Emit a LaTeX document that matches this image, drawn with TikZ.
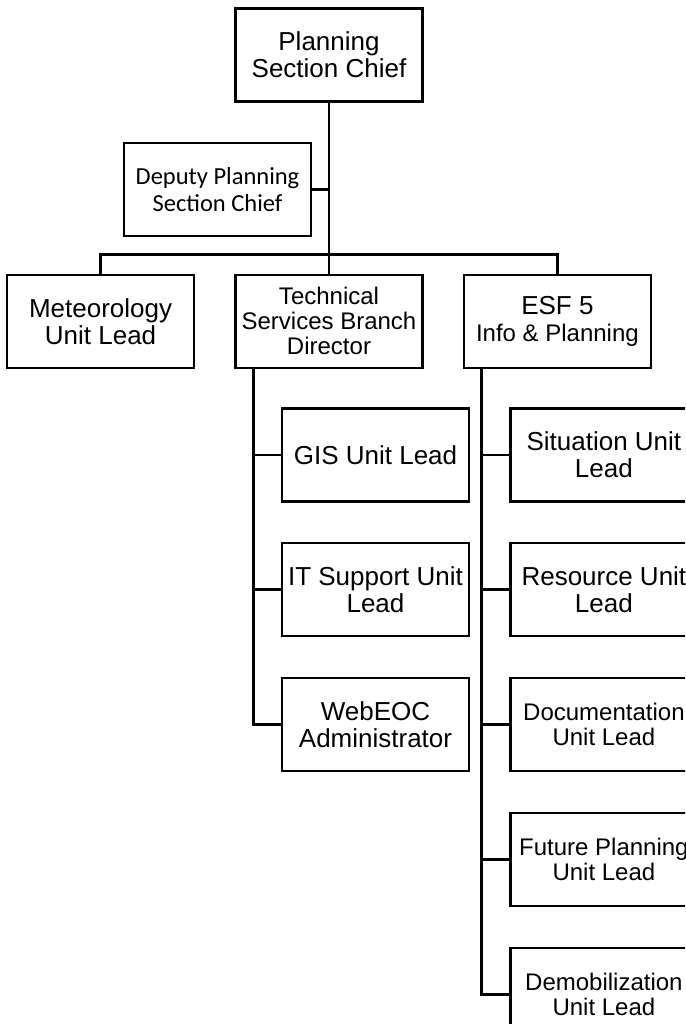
\documentclass[tikz,border=0pt]{standalone}
\usepackage{fontspec}
\setmainfont{Liberation Sans}
\newfontfamily\calibri{Carlito}
\usetikzlibrary{positioning}

\begin{document}
\begin{tikzpicture}[
    post/.style={rectangle, draw=black, line width=2.4pt, text centered, align=center,
    minimum width=187pt, minimum height=93pt, inner sep=0pt, font=\fontsize{26}{27}\selectfont},
    small/.style={font=\fontsize{24}{25}\selectfont}, link/.style={line width=2.6pt}]

    \useasboundingbox (0,0) rectangle (685pt,-1024pt);
    \clip (0,0) rectangle (685pt,-1024pt);

    \node (chief) [post] at (329pt,-55pt) {Planning\\Section Chief};
    \node (deputy) [post, below=39pt of chief, xshift=-111.5pt, font=\calibri\fontsize{24.5}{27}\selectfont]
    {Deputy Planning\\Section Chief};

    \node (tech) [post, small, below=171pt of chief] {Technical\\Services Branch\\Director};
    \node (met) [post, left=39pt of tech] {Meteorology\\Unit Lead};
    \node (esf) [post, right=39pt of tech] {ESF 5\\{\fontsize{24}{25}\selectfont Info \& Planning}};

    \node (gis) [post, below=38pt of tech, xshift=46.5pt] {GIS Unit Lead};
    \node (it) [post, below=39.5pt of gis] {IT Support Unit\\Lead};
    \node (web) [post, below=39.5pt of it] {WebEOC\\Administrator};

    \node (sit) [post, below=38pt of esf, xshift=46.5pt] {Situation Unit\\Lead};
    \node (res) [post, below=39.5pt of sit] {Resource Unit\\Lead};
    \node (doc) [post, small, below=39.5pt of res] {Documentation\\Unit Lead};
    \node (fut) [post, small, below=39.5pt of doc] {Future Planning\\Unit Lead};
    \node (dem) [post, small, below=39.5pt of fut] {Demobilization\\Unit Lead};

    \coordinate [above=19pt of tech] (bus);
    \draw [link] (chief) -- (bus);
    \draw [link] (deputy) -- (deputy -| chief);
    \draw [link] (met) |- (bus) -| (esf);
    \draw [link] (bus) -- (tech);

    \coordinate (techtop) at ([xshift=19pt]tech.south west);
    \draw [link] (techtop) |- (web);
    \draw [link] (gis) -- (gis -| techtop);
    \draw [link] (it) -- (it -| techtop);

    \coordinate (esftop) at ([xshift=19pt]esf.south west);
    \draw [link] (esftop) |- (dem);
    \draw [link] (sit) -- (sit -| esftop);
    \draw [link] (res) -- (res -| esftop);
    \draw [link] (doc) -- (doc -| esftop);
    \draw [link] (fut) -- (fut -| esftop);
\end{tikzpicture}
\end{document}
